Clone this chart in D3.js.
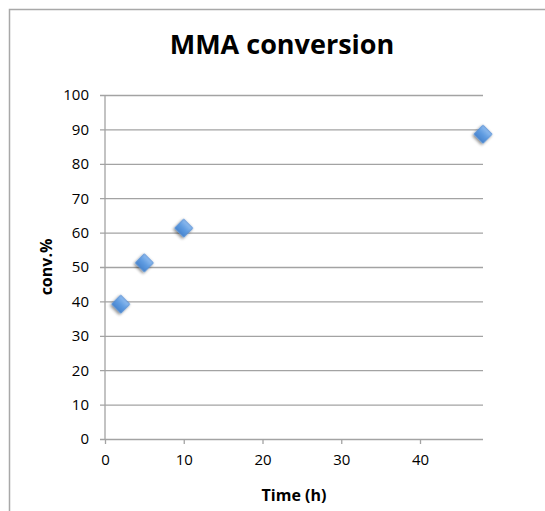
<!DOCTYPE html>
<html>
<head>
<meta charset="utf-8">
<script src="https://cdn.jsdelivr.net/npm/d3@7"></script>
<style>
  html, body { margin: 0; padding: 0; background: #fff; }
  svg { display: block; }
</style>
</head>
<body>
<svg id="chart" width="545" height="511"></svg>
<script>
// MMA conversion over time
const timeH = [2, 5, 10, 48];
const conversion = [39.2, 51.2, 61.3, 88.6];
const xTicks = [0, 10, 20, 30, 40];
const yTicks = [0, 10, 20, 30, 40, 50, 60, 70, 80, 90, 100];

const svg = d3.select("#chart");
const W = 545, H = 511;
const plot = { left: 105, right: 483, top: 95, bottom: 439 };
const font = "'Open Sans', 'DejaVu Sans', sans-serif";
const gridColor = "#a3a3a3";

// outer chart frame
svg.append("rect")
  .attr("x", 9.5).attr("y", 9.5)
  .attr("width", W + 20).attr("height", H + 20)
  .attr("fill", "#fff")
  .attr("stroke", "#a8a8a8").attr("stroke-width", 1.5);

const x = d3.scaleLinear().domain([0, 48]).range([plot.left, plot.right]);
const y = d3.scaleLinear().domain([0, 100]).range([plot.bottom, plot.top]);

// marker gradient and soft shadow
const defs = svg.append("defs");
const grad = defs.append("linearGradient")
  .attr("id", "markerFill").attr("x1", "0").attr("y1", "0").attr("x2", "0").attr("y2", "1");
grad.append("stop").attr("offset", "0%").attr("stop-color", "#8fbcef");
grad.append("stop").attr("offset", "55%").attr("stop-color", "#5d9ae0");
grad.append("stop").attr("offset", "100%").attr("stop-color", "#4a86cf");
const shadow = defs.append("filter").attr("id", "markerShadow")
  .attr("x", "-50%").attr("y", "-50%").attr("width", "200%").attr("height", "200%");
shadow.append("feGaussianBlur").attr("in", "SourceAlpha").attr("stdDeviation", 1.6).attr("result", "b");
shadow.append("feOffset").attr("in", "b").attr("dx", 0).attr("dy", 1.5).attr("result", "o");
shadow.append("feComponentTransfer").attr("in", "o").attr("result", "s")
  .append("feFuncA").attr("type", "linear").attr("slope", 0.45);
const merge = shadow.append("feMerge");
merge.append("feMergeNode").attr("in", "s");
merge.append("feMergeNode").attr("in", "SourceGraphic");

// y axis with gridlines spanning the plot
const yAxis = svg.append("g")
  .attr("transform", `translate(${plot.left},0)`)
  .call(d3.axisLeft(y).tickValues(yTicks)
    .tickSize(-(plot.right - plot.left)).tickSizeOuter(0).tickPadding(16));
yAxis.select(".domain").remove();
yAxis.selectAll(".tick line")
  .attr("x1", -5)
  .attr("stroke", gridColor).attr("stroke-width", 1.3);
yAxis.selectAll(".tick text")
  .attr("font-family", font).attr("font-size", 15).attr("fill", "#000");

// vertical axis line
svg.append("line")
  .attr("x1", plot.left).attr("x2", plot.left)
  .attr("y1", plot.top).attr("y2", plot.bottom)
  .attr("stroke", gridColor).attr("stroke-width", 1.3);

// x axis
const xAxis = svg.append("g")
  .attr("transform", `translate(0,${plot.bottom})`)
  .call(d3.axisBottom(x).tickValues(xTicks).tickSize(5).tickSizeOuter(0).tickPadding(10));
xAxis.select(".domain").remove();
xAxis.selectAll(".tick line").attr("stroke", gridColor).attr("stroke-width", 1.3);
xAxis.selectAll(".tick text")
  .attr("font-family", font).attr("font-size", 15).attr("fill", "#000");

// data markers
const pts = timeH.map((t, i) => ({ t, v: conversion[i] }));
svg.append("g").selectAll("path")
  .data(pts).join("path")
  .attr("d", d3.symbol().type(d3.symbolSquare).size(160))
  .attr("transform", d => `translate(${x(d.t)},${y(d.v)}) rotate(45)`)
  .attr("fill", "url(#markerFill)")
  .attr("stroke", "#4f8bd3").attr("stroke-width", 0.8)
  .attr("filter", "url(#markerShadow)");

// title and axis titles
svg.append("text")
  .attr("x", 282).attr("y", 54)
  .attr("text-anchor", "middle")
  .attr("font-family", font).attr("font-weight", "bold").attr("font-size", 27)
  .text("MMA conversion");

svg.append("text")
  .attr("x", (plot.left + plot.right) / 2).attr("y", 501)
  .attr("text-anchor", "middle")
  .attr("font-family", font).attr("font-weight", "bold").attr("font-size", 16)
  .text("Time (h)");

svg.append("text")
  .attr("transform", `translate(52,${(plot.top + plot.bottom) / 2}) rotate(-90)`)
  .attr("text-anchor", "middle")
  .attr("font-family", font).attr("font-weight", "bold").attr("font-size", 16)
  .text("conv.%");
</script>
</body>
</html>
